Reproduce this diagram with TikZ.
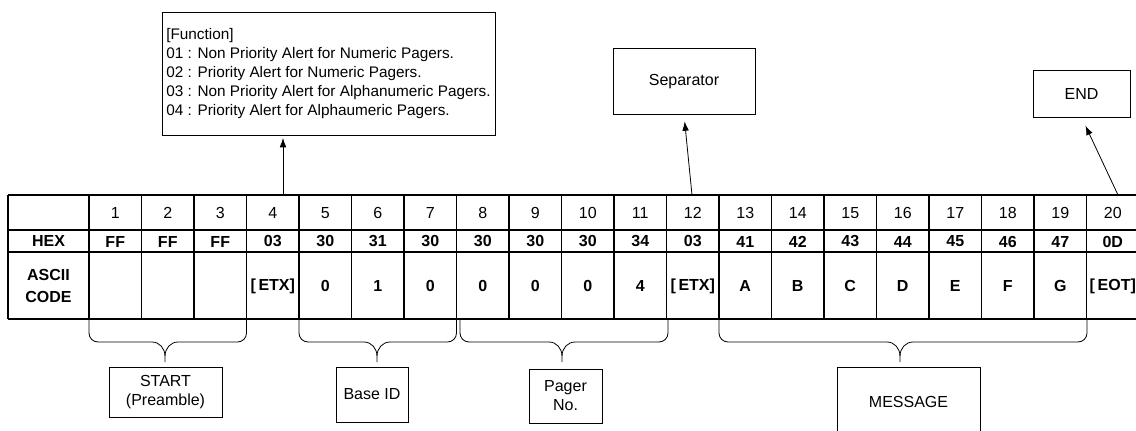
\documentclass[tikz,border=0pt]{standalone}
\usepackage{fontspec}
\setmainfont{Liberation Sans}
\usetikzlibrary{arrows.meta, calc, positioning}
\tikzset{
    tagBox/.style={draw, thin, rectangle, inner sep=0pt, align=center, font=\fontsize{12}{14.2}\selectfont},
    numCell/.style={inner sep=0pt, font=\fontsize{12}{14}\selectfont},
    codeCell/.style={inner sep=0pt, align=center, font=\fontsize{12}{16}\selectfont\bfseries},
    gridThick/.style={line width=1.5pt},
    gridThin/.style={line width=1pt},
    tagArrow/.style={-{Latex[length=7pt, width=5pt]}, line width=0.6pt},
    braceLine/.style={line width=0.6pt},
}
\newcommand{\drawBrace}[3]{
    % left end, right end, tip
    \draw[braceLine] (#1,319) -- (#1,333) to[out=-90, in=180] (#1+9,342)
        -- (#3-13,342) to[out=0, in=90] (#3,356) -- (#3,362);
    \draw[braceLine] (#2,319) -- (#2,333) to[out=-90, in=0] (#2-9,342)
        -- (#3+13,342) to[out=180, in=90] (#3,356);
}

\begin{document}
\begin{tikzpicture}[x=0.75pt, y=-0.75pt]
    \clip (0,0) rectangle (1136,431);

    % grid
    \foreach \yy in {195, 230, 319} \draw[gridThick] (8,\yy) -- (1139,\yy);
    \draw[gridThin] (8,252) -- (1139,252);
    \draw[gridThick] (8,195) -- (8,319);
    \draw[gridThick] (89,195) -- (89,319);
    \foreach \k in {1,...,20} \draw[gridThin] (89+\k*52.5,195) -- (89+\k*52.5,319);

    % row titles
    \node[codeCell] (hexTitle) at (48.5,241) {HEX};
    \node[codeCell] (asciiTitle) at (48.5,286) {ASCII\\CODE};

    % cells
    \foreach \hx [count=\i] in {FF,FF,FF,03,30,31,30,30,30,30,34,03,41,42,43,44,45,46,47,0D} {
        \pgfmathsetmacro{\cx}{89+(\i-0.5)*52.5}
        \node[numCell] (n\i) at (\cx,213) {\i};
        \node[codeCell] (h\i) at (\cx,241.5) {\hx};
    }
    \foreach \ch [count=\i] in {{},{},{},{[\,ETX]},0,1,0,0,0,0,4,{[\,ETX]},A,B,C,D,E,F,G,{[\,EOT]}} {
        \pgfmathsetmacro{\cx}{89+(\i-0.5)*52.5}
        \node[codeCell] (a\i) at (\cx,286) {\ch};
    }

    % braces under the fields
    \drawBrace{89}{246.5}{165}
    \drawBrace{299}{456.5}{377}
    \drawBrace{460}{668}{562}
    \drawBrace{719}{1087}{900}

    % field boxes
    \node[tagBox, minimum width=84.75pt, minimum height=37.5pt] (start) at (165.5,392) {START\\(Preamble)};
    \node[tagBox, minimum width=54pt, minimum height=41.25pt] (baseid) at (372,394.5) {Base ID};
    \node[tagBox, minimum width=54.75pt, minimum height=40.5pt] (pager) at (565.5,396) {Pager\\No.};
    \node[tagBox, minimum width=107.25pt, minimum height=52.5pt] (message) at (908.5,402) {MESSAGE};

    \node[tagBox, minimum width=249.75pt, minimum height=92.25pt, align=left,
          font=\fontsize{11.5}{14.2}\selectfont] (func) at (328.5,73.5)
        {[Function]\\
         01 : Non Priority Alert for Numeric Pagers.\\
         02 : Priority Alert for Numeric Pagers.\\
         03 : Non Priority Alert for Alphanumeric Pagers.\\
         04 : Priority Alert for Alphaumeric Pagers.};
    \node[tagBox, minimum width=106.5pt, minimum height=49.5pt] (sep) at (684,81.5) {Separator};
    \node[tagBox, minimum width=72.75pt, minimum height=35.25pt] (end) at (1081.5,93.5) {END};

    % pointers
    \coordinate (fnFoot) at (283,195);
    \coordinate (sepFoot) at (692,195);
    \coordinate (endFoot) at (1118,195);
    \draw[tagArrow, shorten >=2pt] (fnFoot) -- (fnFoot |- func.south);
    \draw[tagArrow, shorten >=5pt] (sepFoot) -- (sep.south);
    \draw[tagArrow, shorten >=7pt] (endFoot) -- (end.south);
\end{tikzpicture}
\end{document}
